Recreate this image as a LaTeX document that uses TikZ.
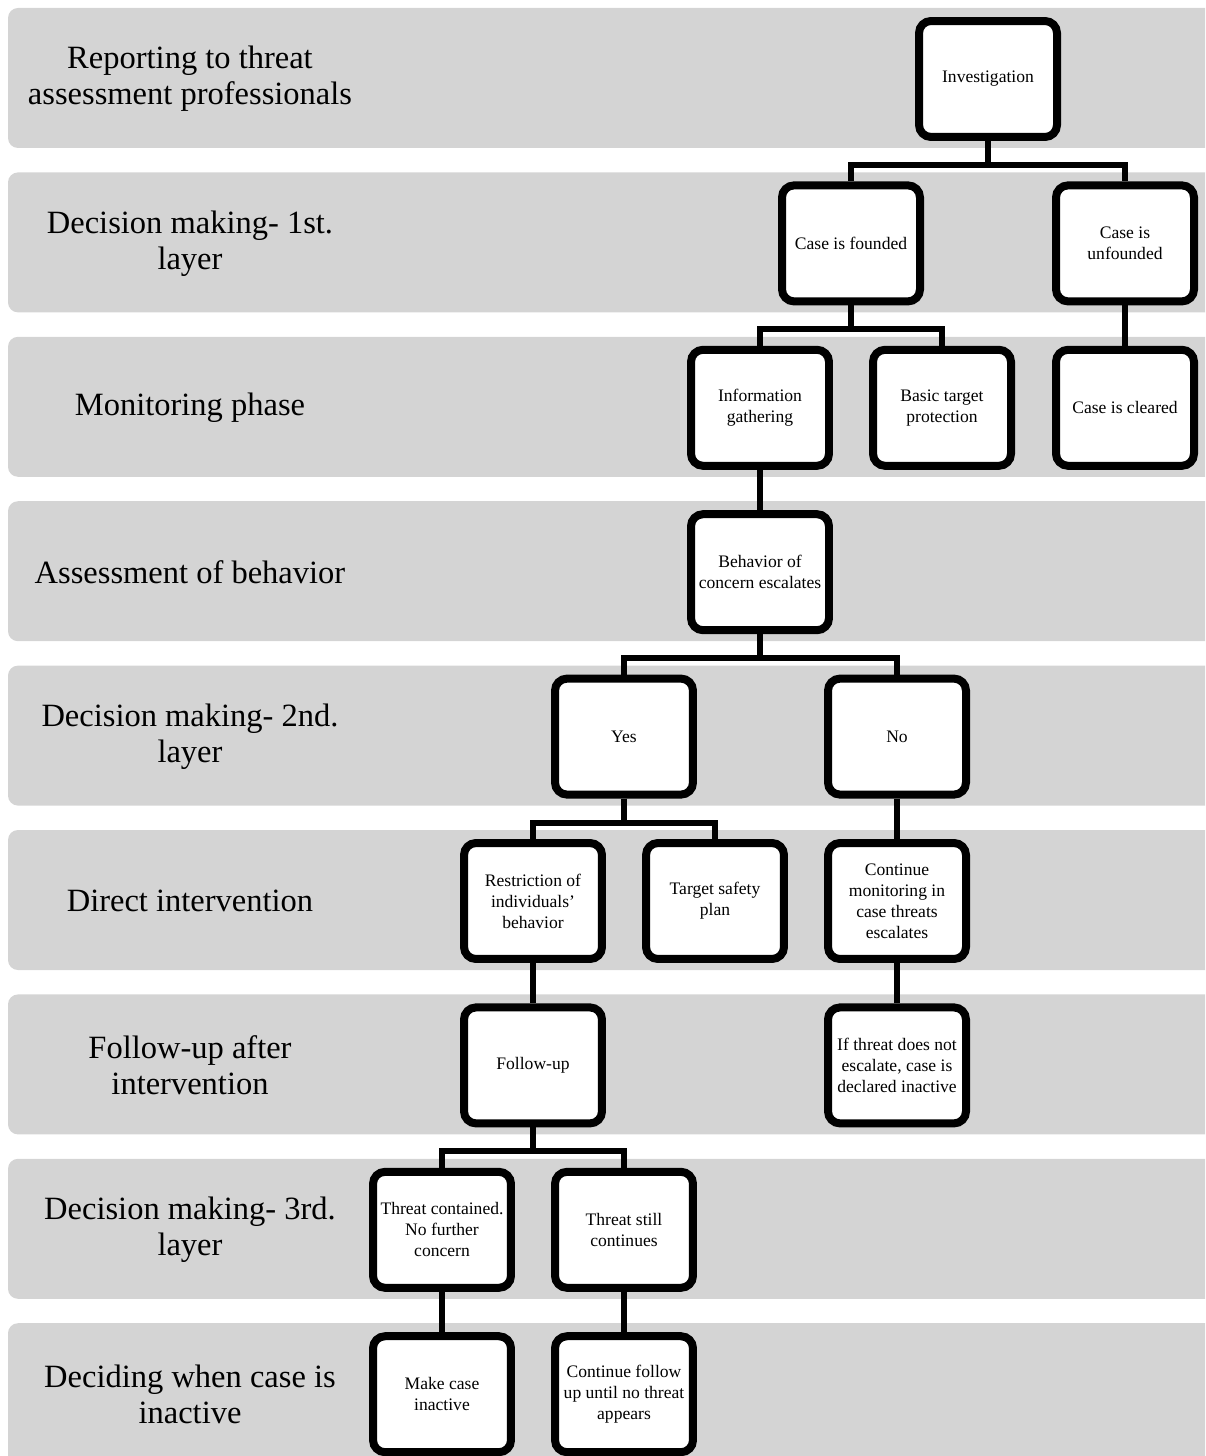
\documentclass[tikz,border=0pt]{standalone}
\usepackage{fontspec}
\setmainfont{Liberation Serif}
\definecolor{BandClr}{RGB}{212,212,212}

\tikzset{
  band/.style={fill=BandClr,rounded corners=0.2cm},
  phase/.style={align=center,font=\fontsize{18.5}{20.5}\selectfont},
  stepbox/.style={draw=black,fill=white,line width=0.16cm,rounded corners=0.24cm,
    minimum width=2.76cm,minimum height=2.32cm,inner sep=0.05cm,align=center,
    font=\fontsize{10}{12}\selectfont},
  link/.style={line width=0.12cm}
}

\begin{document}
\begin{tikzpicture}[x=0.02cm,y=-0.02cm]
\useasboundingbox (0,0) rectangle (1205,1456);
\clip (0,0) rectangle (1205,1456);

% phase bands
\fill[band] (8,8) rectangle (1230,148);
\fill[band] (8,172.4) rectangle (1230,312.4);
\fill[band] (8,336.8) rectangle (1230,476.8);
\fill[band] (8,501.2) rectangle (1230,641.2);
\fill[band] (8,665.6) rectangle (1230,805.6);
\fill[band] (8,830) rectangle (1230,970);
\fill[band] (8,994.4) rectangle (1230,1134.4);
\fill[band] (8,1158.8) rectangle (1230,1298.8);
\fill[band] (8,1323.2) rectangle (1230,1480);

% phase names
\node[phase] (report) at (190,79) {Reporting to threat\\assessment professionals};
\node[phase] (decone) at (190,243.4) {Decision making- 1st.\\layer};
\node[phase] (monit) at (190,407.8) {Monitoring phase};
\node[phase] (assess) at (190,572.2) {Assessment of behavior};
\node[phase] (dectwo) at (190,736.6) {Decision making- 2nd.\\layer};
\node[phase] (direct) at (190,901) {Direct intervention};
\node[phase] (after) at (190,1065.4) {Follow-up after\\intervention};
\node[phase] (decthree) at (190,1229.8) {Decision making- 3rd.\\layer};
\node[phase] (decide) at (190,1394.2) {Deciding when case is\\inactive};

% steps
\node[stepbox] (inv) at (988,79) {Investigation};
\node[stepbox] (founded) at (851,243.4) {Case is founded};
\node[stepbox] (unfounded) at (1125,243.4) {Case is\\unfounded};
\node[stepbox] (info) at (760,407.8) {Information\\gathering};
\node[stepbox] (basic) at (942,407.8) {Basic target\\protection};
\node[stepbox] (cleared) at (1125,407.8) {Case is cleared};
\node[stepbox] (escal) at (760,572.2) {Behavior of\\concern escalates};
\node[stepbox] (yes) at (624,736.6) {Yes};
\node[stepbox] (no) at (897,736.6) {No};
\node[stepbox] (restrict) at (533,901) {Restriction of\\individuals'\\behavior};
\node[stepbox] (safety) at (715,901) {Target safety\\plan};
\node[stepbox] (monitor) at (897,901) {Continue\\monitoring in\\case threats\\escalates};
\node[stepbox] (follow) at (533,1065.4) {Follow-up};
\node[stepbox] (inactive) at (897,1065.4) {If threat does not\\escalate, case is\\declared inactive};
\node[stepbox] (contained) at (442,1229.8) {Threat contained.\\No further\\concern};
\node[stepbox] (continues) at (624,1229.8) {Threat still\\continues};
\node[stepbox] (makeinact) at (442,1394.2) {Make case\\inactive};
\node[stepbox] (untilno) at (624,1394.2) {Continue follow\\up until no threat\\appears};

% connectors
\draw[link] (inv.south) -- ++(0,24) -| (founded.north);
\draw[link] (inv.south) -- ++(0,24) -| (unfounded.north);
\draw[link] (founded.south) -- ++(0,24) -| (info.north);
\draw[link] (founded.south) -- ++(0,24) -| (basic.north);
\draw[link] (unfounded.south) -- (cleared.north);
\draw[link] (info.south) -- (escal.north);
\draw[link] (escal.south) -- ++(0,24) -| (yes.north);
\draw[link] (escal.south) -- ++(0,24) -| (no.north);
\draw[link] (yes.south) -- ++(0,24) -| (restrict.north);
\draw[link] (yes.south) -- ++(0,24) -| (safety.north);
\draw[link] (no.south) -- (monitor.north);
\draw[link] (restrict.south) -- (follow.north);
\draw[link] (monitor.south) -- (inactive.north);
\draw[link] (follow.south) -- ++(0,24) -| (contained.north);
\draw[link] (follow.south) -- ++(0,24) -| (continues.north);
\draw[link] (contained.south) -- (makeinact.north);
\draw[link] (continues.south) -- (untilno.north);

\end{tikzpicture}
\end{document}
